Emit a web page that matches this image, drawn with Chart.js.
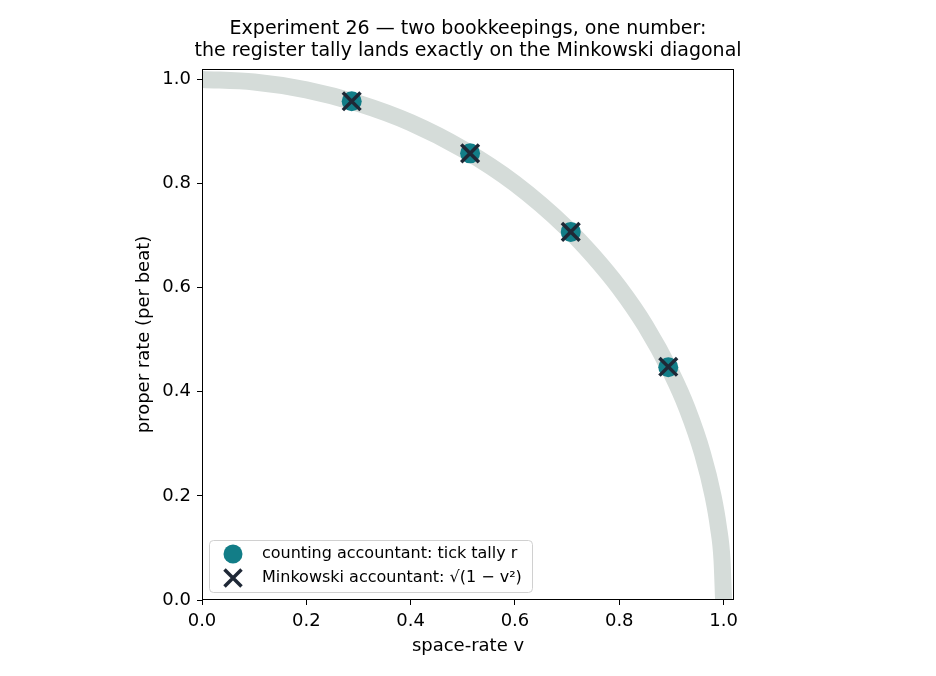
<!DOCTYPE html>
<html>
<head>
<meta charset="utf-8">
<script src="https://cdn.jsdelivr.net/npm/chart.js@4"></script>
<style>
  html, body { margin: 0; padding: 0; background: #ffffff; }
  #wrap { width: 936px; height: 676px; }
</style>
</head>
<body>
<div id="wrap"><canvas id="c" width="936" height="676"></canvas></div>
<script>
// ---- data ----
const speedV      = [0.287, 0.514, 0.707, 0.894];
const tickTally   = [0.958, 0.858, 0.707, 0.447];
const minkowskiR  = [0.958, 0.858, 0.707, 0.448];
const curveV      = [0, 0.1, 0.2, 0.3, 0.4, 0.5, 0.6, 0.7, 0.75, 0.8, 0.85, 0.9, 0.93, 0.96, 0.98, 0.99, 0.997, 1.0];
const curveR      = [1.0, 0.995, 0.980, 0.954, 0.917, 0.866, 0.800, 0.714, 0.661, 0.600, 0.527, 0.436, 0.368, 0.280, 0.199, 0.141, 0.077, 0.0];
const tickValues  = [0, 0.2, 0.4, 0.6, 0.8, 1.0];
const titleLines  = ["Experiment 26 \u2014 two bookkeepings, one number:",
                     "the register tally lands exactly on the Minkowski diagonal"];
const xLabel = "space-rate v";
const yLabel = "proper rate (per beat)";
const labelTally = "counting accountant: tick tally r";
const labelMink  = "Minkowski accountant: \u221a(1 \u2212 v\u00b2)";

const FONT = "'DejaVu Sans', sans-serif";
const toPts = (xs, ys) => xs.map((x, i) => ({x: x, y: ys[i]}));

const boxPlugin = {
  id: 'box',
  afterDatasetsDraw(chart) {
    const {ctx, chartArea: a} = chart;
    ctx.save();
    ctx.strokeStyle = '#000';
    ctx.lineWidth = 1;
    ctx.strokeRect(Math.round(a.left) + 0.5, Math.round(a.top) + 0.5,
                   Math.round(a.right - a.left) - 1, Math.round(a.bottom - a.top) - 1);
    ctx.restore();
  }
};

const titlePlugin = {
  id: 'figTitle',
  afterDraw(chart) {
    const {ctx, chartArea: a} = chart;
    const cx = (a.left + a.right) / 2;
    ctx.save();
    ctx.fillStyle = '#000';
    ctx.font = "19px " + FONT;
    ctx.textAlign = 'center';
    ctx.textBaseline = 'middle';
    titleLines.forEach((t, i) => ctx.fillText(t, cx, 29 + i * 22));
    ctx.restore();
  }
};

const legendPlugin = {
  id: 'innerLegend',
  afterDraw(chart) {
    const {ctx, chartArea: a} = chart;
    const x0 = a.left + 7, y0 = a.bottom - 60, w = 323, h = 52;
    ctx.save();
    ctx.beginPath();
    ctx.roundRect(x0 + 0.5, y0 + 0.5, w, h, 4);
    ctx.fillStyle = 'rgba(255,255,255,0.8)';
    ctx.fill();
    ctx.strokeStyle = '#d0d0d0';
    ctx.lineWidth = 1;
    ctx.stroke();
    const ds = chart.data.datasets;
    const rows = [ds[1], ds[2]];
    rows.forEach((d, i) => {
      const cy = y0 + 14 + i * 24;
      const cx = x0 + 24;
      if (d.pointStyle === 'circle') {
        ctx.beginPath();
        ctx.arc(cx, cy, 9.5, 0, Math.PI * 2);
        ctx.fillStyle = d.backgroundColor;
        ctx.fill();
      } else {
        const r = 8.5;
        ctx.beginPath();
        ctx.moveTo(cx - r, cy - r); ctx.lineTo(cx + r, cy + r);
        ctx.moveTo(cx + r, cy - r); ctx.lineTo(cx - r, cy + r);
        ctx.strokeStyle = d.borderColor;
        ctx.lineWidth = 3.5;
        ctx.stroke();
      }
      ctx.fillStyle = '#000';
      ctx.font = "16px " + FONT;
      ctx.textBaseline = 'middle';
      ctx.textAlign = 'left';
      ctx.fillText(d.label, x0 + 53, cy);
    });
    ctx.restore();
  }
};

new Chart(document.getElementById('c'), {
  type: 'scatter',
  data: {
    datasets: [
      {
        type: 'line',
        label: 'curve',
        data: toPts(curveV, curveR),
        borderColor: '#d5dcd9',
        borderWidth: 17,
        borderCapStyle: 'butt',
        pointRadius: 0,
        fill: false,
        cubicInterpolationMode: 'monotone',
        order: 3
      },
      {
        label: labelTally,
        data: toPts(speedV, tickTally),
        pointStyle: 'circle',
        pointRadius: 10,
        backgroundColor: '#127d87',
        borderColor: '#127d87',
        borderWidth: 0,
        order: 2
      },
      {
        label: labelMink,
        data: toPts(speedV, minkowskiR),
        pointStyle: 'crossRot',
        pointRadius: 12.5,
        borderColor: '#1f2836',
        backgroundColor: '#1f2836',
        borderWidth: 3.5,
        order: 1
      }
    ]
  },
  options: {
    responsive: false,
    animation: false,
    devicePixelRatio: 1,
    layout: { padding: { left: 130, right: 202, top: 69, bottom: 15 } },
    plugins: {
      legend: { display: false },
      tooltip: { enabled: false },
      title: { display: false }
    },
    scales: {
      x: {
        type: 'linear',
        min: 0, max: 1.02,
        afterFit(s) { s.height = 61; },
        afterBuildTicks(s) { s.ticks = tickValues.map(v => ({value: v})); },
        ticks: {
          includeBounds: false,
          color: '#000',
          font: { family: FONT, size: 18 },
          padding: 6,
          maxRotation: 0,
          callback: v => Number(v).toFixed(1)
        },
        grid: { drawOnChartArea: false, drawTicks: true, tickLength: 5, color: '#000', tickWidth: 1 },
        border: { display: false },
        title: { display: true, text: xLabel, color: '#000', font: { family: FONT, size: 18 }, padding: { top: 4, bottom: 4 } }
      },
      y: {
        type: 'linear',
        min: 0, max: 1.02,
        afterFit(s) { s.width = 72; },
        afterBuildTicks(s) { s.ticks = tickValues.map(v => ({value: v})); },
        ticks: {
          includeBounds: false,
          color: '#000',
          font: { family: FONT, size: 18 },
          padding: 6,
          callback: v => Number(v).toFixed(1)
        },
        grid: { drawOnChartArea: false, drawTicks: true, tickLength: 5, color: '#000', tickWidth: 1 },
        border: { display: false },
        title: { display: true, text: yLabel, color: '#000', font: { family: FONT, size: 18 }, padding: { top: 4, bottom: 4 } }
      }
    }
  },
  plugins: [boxPlugin, legendPlugin, titlePlugin]
});
</script>
</body>
</html>
